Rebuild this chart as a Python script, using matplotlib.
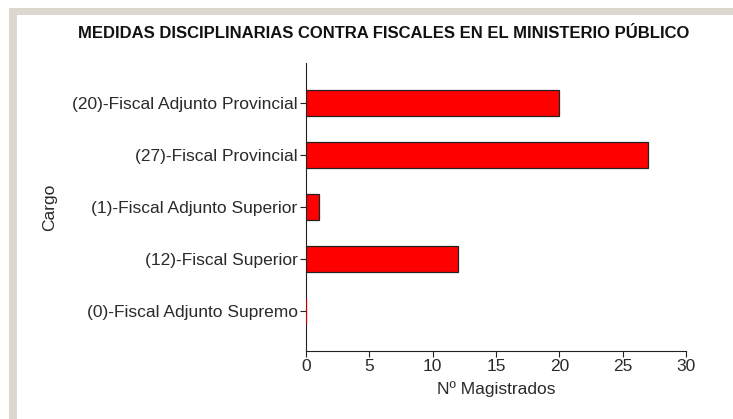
import matplotlib.pyplot as plt
from matplotlib.patches import Rectangle

plt.rcParams['font.family'] = ['Liberation Sans', 'DejaVu Sans']

# datos
cargos = ["(20)-Fiscal Adjunto Provincial", "(27)-Fiscal Provincial",
          "(1)-Fiscal Adjunto Superior", "(12)-Fiscal Superior",
          "(0)-Fiscal Adjunto Supremo"]
magistrados = [20, 27, 1, 12, 0]
ticks_x = [0, 5, 10, 15, 20, 25, 30]

fig = plt.figure(figsize=(7.33, 4.19), dpi=100)

# marco gris a la izquierda y arriba
fig.patches.append(Rectangle((9 / 733, 0), 8 / 733, 1 - 8 / 419, transform=fig.transFigure,
                             facecolor='#dcd8d0', edgecolor='none'))
fig.patches.append(Rectangle((9 / 733, 1 - 15 / 419), 1, 7 / 419, transform=fig.transFigure,
                             facecolor='#dcd8d0', edgecolor='none'))

ax = fig.add_axes([306 / 733, 1 - 351 / 419, 380 / 733, 288 / 419])
bordes = ['#222222' if v > 0 else '#cc0000' for v in magistrados]
ax.barh(range(len(cargos)), magistrados, height=0.5, color='#ff0000',
        edgecolor=bordes, linewidth=0.9, zorder=3)
ax.set_ylim(len(cargos) - 1 + 0.77, -0.77)
ax.set_xlim(0, 30)
ax.set_xticks(ticks_x)
ax.set_yticks(range(len(cargos)))
ax.set_yticklabels(cargos)
ax.spines['top'].set_visible(False)
ax.spines['right'].set_visible(False)
for s in ['left', 'bottom']:
    ax.spines[s].set_color('#222222')
ax.tick_params(colors='#222222', labelcolor='#2a2a2a', labelsize=12.5, length=4, pad=2)
ax.set_xlabel("Nº Magistrados", fontsize=12.5, color='#2a2a2a', labelpad=5)
ax.set_ylabel("Cargo", fontsize=12.5, color='#2a2a2a', labelpad=11)

fig.text(384 / 733, 1 - 34 / 419, "MEDIDAS DISCIPLINARIAS CONTRA FISCALES EN EL MINISTERIO PÚBLICO",
         ha='center', va='center', fontsize=12, fontweight='bold', color='#111111')

fig.savefig("out.png", dpi=100)
